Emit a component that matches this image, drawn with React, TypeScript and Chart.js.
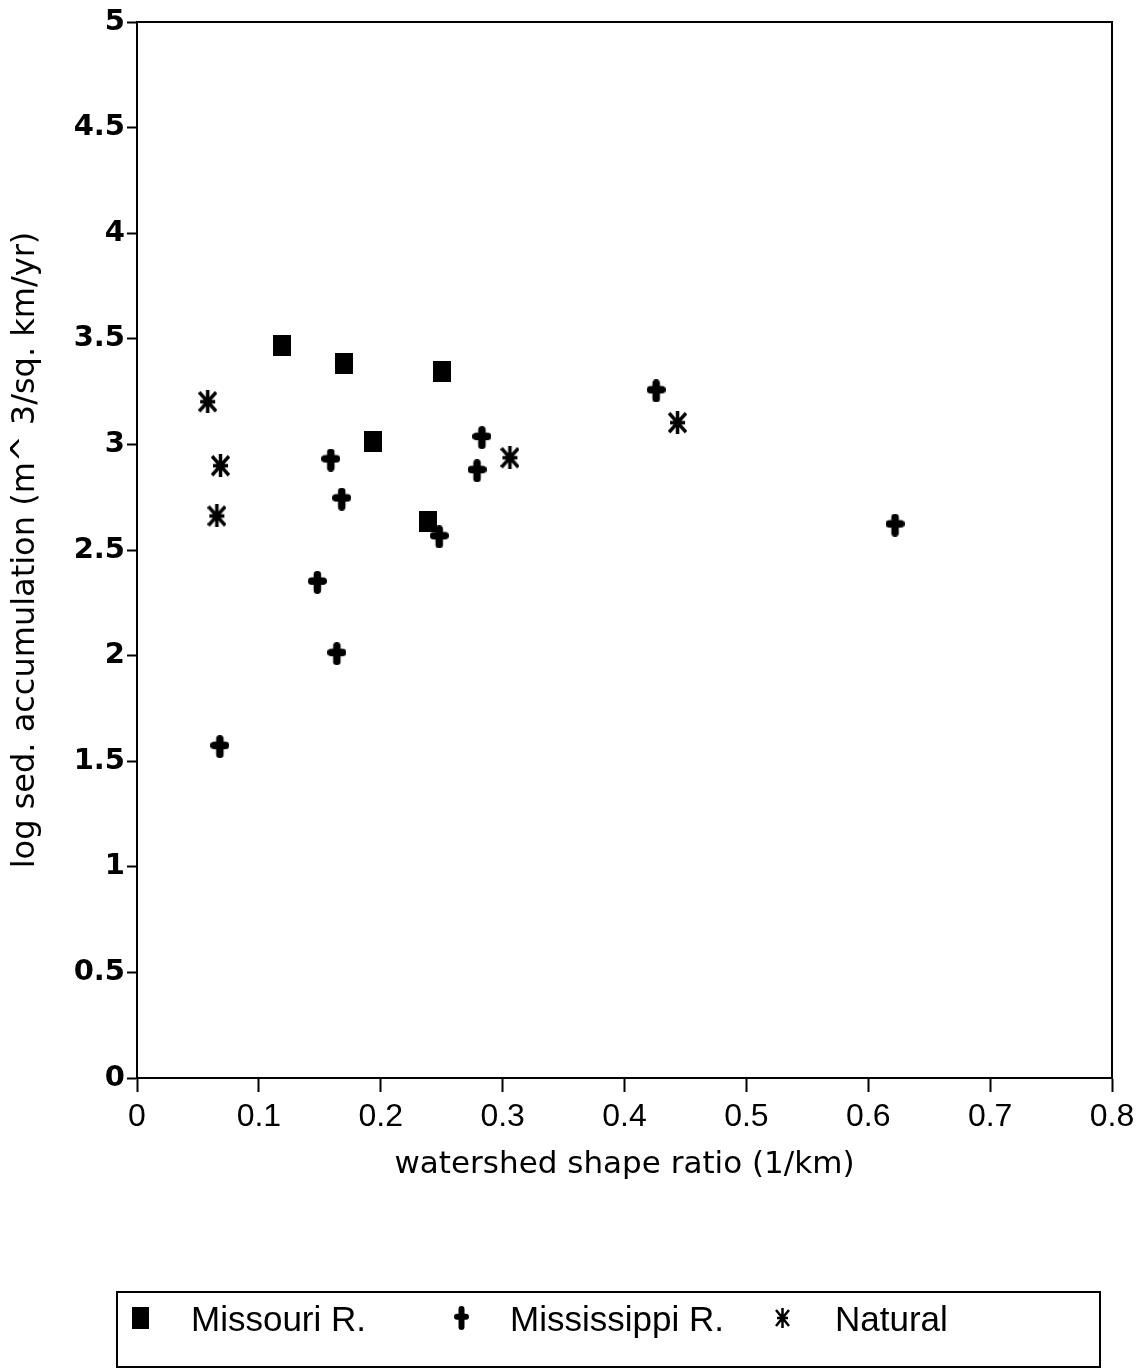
import React, { useEffect, useRef } from "react";
import { Chart, registerables } from "chart.js";

Chart.register(...registerables);

const seriesNames = ["Missouri R.", "Mississippi R.", "Natural"];

const missouriX = [0.119, 0.170, 0.250, 0.194, 0.2385];
const missouriY = [3.467, 3.385, 3.344, 3.016, 2.636];

const mississippiX = [0.159, 0.168, 0.148, 0.164, 0.068, 0.248, 0.279, 0.283, 0.426, 0.622];
const mississippiY = [2.926, 2.741, 2.347, 2.009, 1.569, 2.562, 2.875, 3.032, 3.253, 2.618];

const naturalX = [0.058, 0.0685, 0.0655, 0.306, 0.4435];
const naturalY = [3.202, 2.899, 2.661, 2.937, 3.103];

const xMin = 0;
const xMax = 0.8;
const xStep = 0.1;
const yMin = 0;
const yMax = 5;
const yStep = 0.5;

const xTitle = "watershed shape ratio (1/km)";
const yTitle = "log sed. accumulation (m^ 3/sq. km/yr)";

function makeSquare(w: number, h: number) {
  const c = document.createElement("canvas");
  c.width = w;
  c.height = h;
  const ctx = c.getContext("2d")!;
  ctx.fillStyle = "#000";
  ctx.fillRect(0, 0, w, h);
  return c;
}

function makePlus(w: number, h: number, t: number) {
  const c = document.createElement("canvas");
  c.width = w;
  c.height = h;
  const ctx = c.getContext("2d")!;
  ctx.strokeStyle = "#000";
  ctx.lineWidth = t;
  ctx.lineCap = "round";
  ctx.beginPath();
  ctx.moveTo(t / 2, h * 0.45);
  ctx.lineTo(w - t / 2, h * 0.45);
  ctx.moveTo(w / 2, t / 2);
  ctx.lineTo(w / 2, h - t / 2);
  ctx.stroke();
  return c;
}

function makeStar(w: number, h: number, lw: number) {
  const c = document.createElement("canvas");
  c.width = w;
  c.height = h;
  const ctx = c.getContext("2d")!;
  ctx.strokeStyle = "#000";
  ctx.lineWidth = lw;
  ctx.lineCap = "butt";
  const cx = w / 2;
  const cy = h / 2;
  ctx.beginPath();
  ctx.moveTo(cx, 0);
  ctx.lineTo(cx, h);
  ctx.moveTo(2, cy);
  ctx.lineTo(w - 2, cy);
  ctx.moveTo(1, 2);
  ctx.lineTo(w - 1, h - 2);
  ctx.moveTo(w - 1, 2);
  ctx.lineTo(1, h - 2);
  ctx.stroke();
  return c;
}

function makeFrameAndLegend(icons: HTMLCanvasElement[]) {
  return {
    id: "frameAndLegend",
    afterDraw(chart: any) {
      const ctx = chart.ctx;
      const a = chart.chartArea;
      ctx.save();
      ctx.strokeStyle = "#000";
      ctx.lineWidth = 2;
      ctx.beginPath();
      ctx.moveTo(a.left, a.top);
      ctx.lineTo(a.right, a.top);
      ctx.lineTo(a.right, a.bottom);
      ctx.stroke();

      ctx.lineWidth = 2;
      ctx.strokeRect(117, 1292, 983, 75);
      const cy = 1320;
      const markerX = [140, 461, 782];
      const textX = [191, 510, 835];
      ctx.font = "35px 'Liberation Sans', Arial, sans-serif";
      ctx.fillStyle = "#000";
      ctx.textBaseline = "middle";
      ctx.textAlign = "left";
      chart.data.datasets.forEach((ds: any, i: number) => {
        const img = icons[i];
        if (!img) return;
        ctx.drawImage(img, Math.round(markerX[i] - img.width / 2), Math.round(cy - 2 - img.height / 2));
        ctx.fillText(ds.label, textX[i], cy + 1);
      });
      ctx.restore();
    },
  };
}

export default function App() {
  const ref = useRef<HTMLCanvasElement | null>(null);

  useEffect(() => {
    if (!ref.current) return;
    const sq = makeSquare(18, 21);
    const plus = makePlus(19, 23, 7.5);
    const star = makeStar(19, 23, 3.5);
    const legendIcons = [makeSquare(17, 22), makePlus(15, 24, 6), makeStar(15, 20, 2.5)];

    const chart: any = new Chart(ref.current, {
      type: "scatter",
      data: {
        datasets: [
          {
            label: seriesNames[0],
            data: missouriX.map((x, i) => ({ x, y: missouriY[i] })),
            pointStyle: sq as any,
            backgroundColor: "#000",
            borderColor: "#000",
          },
          {
            label: seriesNames[1],
            data: mississippiX.map((x, i) => ({ x, y: mississippiY[i] })),
            pointStyle: plus as any,
            backgroundColor: "#000",
            borderColor: "#000",
          },
          {
            label: seriesNames[2],
            data: naturalX.map((x, i) => ({ x, y: naturalY[i] })),
            pointStyle: star as any,
            backgroundColor: "#000",
            borderColor: "#000",
          },
        ],
      },
      options: {
        responsive: false,
        animation: false,
        devicePixelRatio: 1,
        layout: { padding: { left: 0, right: 35, top: 22, bottom: 180 } },
        plugins: {
          legend: { display: false },
          tooltip: { enabled: false },
          title: { display: false },
        },
        scales: {
          x: {
            type: "linear",
            min: xMin,
            max: xMax,
            afterFit: (s: any) => {
              s.height = 110;
            },
            border: { color: "#000", width: 2 },
            grid: {
              drawOnChartArea: false,
              drawTicks: true,
              tickLength: 14,
              tickColor: "#000",
              tickWidth: 2,
            },
            ticks: {
              stepSize: xStep,
              color: "#000",
              padding: 6,
              maxRotation: 0,
              font: { family: "'Liberation Sans', Arial, sans-serif", size: 32 },
              callback: (v: any) => String(Math.round(Number(v) * 10) / 10),
            },
            title: {
              display: true,
              text: xTitle,
              color: "#000",
              padding: { top: 0, bottom: 4 },
              font: { family: "'DejaVu Sans', sans-serif", size: 31 },
            },
          },
          y: {
            type: "linear",
            min: yMin,
            max: yMax,
            afterFit: (s: any) => {
              s.width = 137;
            },
            border: { color: "#000", width: 2 },
            grid: {
              drawOnChartArea: false,
              drawTicks: true,
              tickLength: 10,
              tickColor: "#000",
              tickWidth: 2,
            },
            ticks: {
              stepSize: yStep,
              color: "#000",
              padding: 2,
              font: { family: "'DejaVu Sans', sans-serif", size: 29, weight: "bold" },
              callback: (v: any) => String(Math.round(Number(v) * 10) / 10),
            },
            title: {
              display: true,
              text: yTitle,
              color: "#000",
              padding: { top: 6, bottom: 0 },
              font: { family: "'DejaVu Sans', sans-serif", size: 32 },
            },
          },
        },
      },
      plugins: [makeFrameAndLegend(legendIcons)],
    });

    return () => chart.destroy();
  }, []);

  return (
    <div style={{ position: "absolute", left: 0, top: 0, width: 1147, height: 1368, background: "#fff" }}>
      <canvas ref={ref} width={1147} height={1368} />
    </div>
  );
}
